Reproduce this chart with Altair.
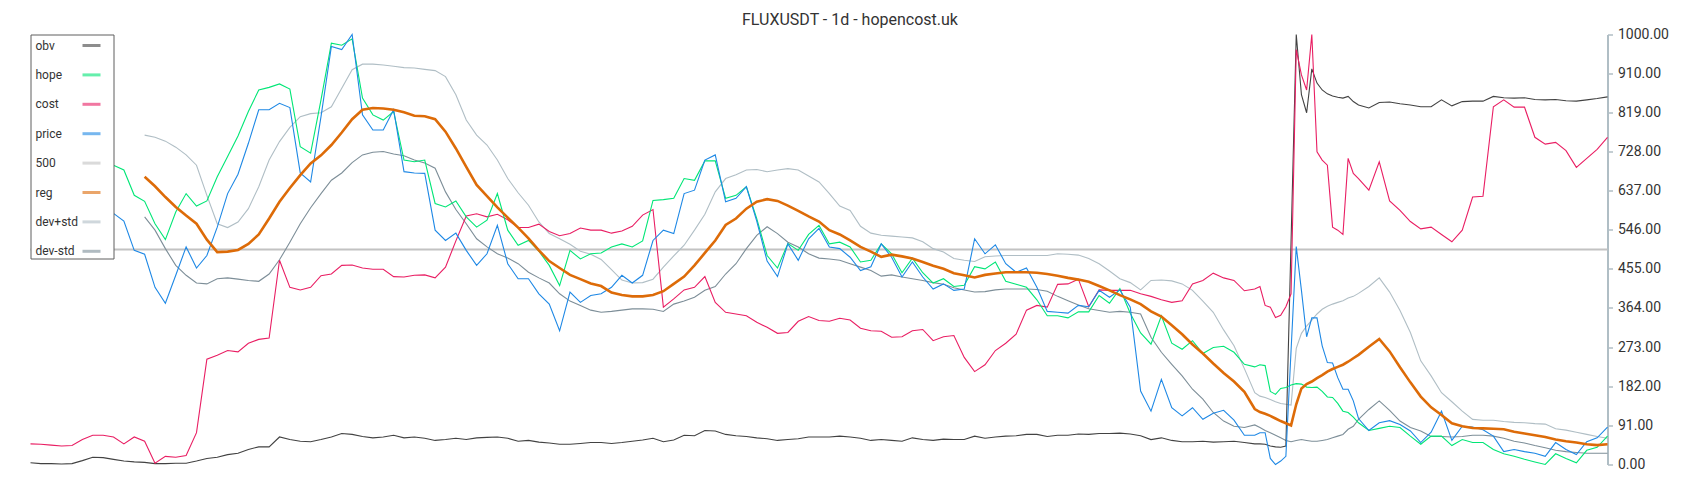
import altair as alt
import pandas as pd

title_text = "FLUXUSDT - 1d - hopencost.uk"
series_names = ["obv", "hope", "cost", "price", "500", "reg", "dev+std", "dev-std"]
series_colors = ["#424242", "#00e676", "#e91e63", "#1e88e5", "#c2c2c2", "#dd6b08", "#b0bec5", "#7d8e98"]
y_ticks = [0, 91, 182, 273, 364, 455, 546, 637, 728, 819, 910, 1000]

# day index of each sample (every 2 days, daily around the spike)
days = list(range(0, 236, 2)) + list(range(236, 257)) + list(range(258, 305, 2))

obv = [4, 2, 2, 1, 2, 9, 17, 16, 12, 8, 6, 5, 2, 2, 3, 3, 8, 14, 17, 23, 26, 35,
       41, 41, 64, 58, 54, 53, 58, 64, 72, 70, 65, 62, 64, 68, 62, 64, 61, 56, 58, 61, 58, 62,
       63, 64, 61, 54, 56, 52, 50, 47, 47, 49, 51, 51, 49, 51, 54, 57, 61, 53, 57, 68, 67, 79,
       78, 70, 67, 65, 62, 60, 56, 58, 60, 64, 64, 64, 66, 64, 61, 56, 58, 56, 54, 62, 58, 56,
       59, 58, 58, 66, 61, 64, 66, 67, 70, 70, 65, 68, 68, 71, 70, 72, 72, 73, 71, 67, 58, 62,
       56, 53, 53, 54, 52, 53, 54, 51,
       48, 48, 47, 43, 41, 40, 43, 520, 1000, 860, 818, 920, 887, 871, 862, 857, 854, 852, 856, 844, 836,
       829, 842, 843, 839, 836, 832, 832, 848, 834, 844, 845, 845, 856, 853, 852, 853, 849, 848, 849, 846, 845, 848, 851, 855]

cost = [48, 47, 45, 43, 44, 58, 68, 68, 64, 48, 64, 54, 3, 19, 17, 21, 74, 245, 254, 265, 262, 282,
        291, 294, 475, 412, 406, 412, 439, 443, 463, 464, 457, 454, 454, 437, 436, 440, 441, 434, 459, 520, 578, 583,
        576, 582, 569, 551, 551, 559, 542, 532, 537, 550, 545, 545, 538, 543, 554, 580, 593, 366, 385, 406, 412, 437,
        377, 354, 350, 346, 331, 319, 305, 307, 333, 344, 335, 333, 340, 336, 317, 311, 310, 296, 297, 311, 314, 288,
        297, 300, 249, 216, 232, 265, 282, 303, 359, 370, 366, 419, 420, 431, 367, 406, 405, 405, 405, 397, 391, 383,
        377, 381, 420, 428, 445, 434, 428, 404,
        408, 414, 370, 366, 342, 347, 367, 397, 965, 906, 871, 1000, 727, 708, 696, 552, 545, 535, 712, 677, 665,
        638, 704, 613, 591, 565, 548, 552, 535, 518, 545, 622, 624, 832, 848, 831, 831, 761, 745, 749, 730, 691, 712, 733, 761]

# hope and price start at day 16
hope = [696, 685, 626, 612, 560, 523, 587, 630, 601, 613, 669, 716, 764, 821,
        871, 877, 885, 873, 739, 724, 848, 980, 975, 990, 852, 813, 801, 821, 708, 704, 708, 607, 599, 613, 576, 552,
        568, 630, 545, 510, 521, 496, 463, 416, 498, 478, 490, 492, 506, 513, 506, 520, 614, 616, 619, 665, 661, 706,
        706, 619, 626, 646, 572, 486, 457, 514, 498, 535, 556, 513, 517, 506, 471, 475, 513, 490, 446, 480, 446, 422,
        432, 414, 417, 460, 455, 471, 426, 419, 412, 383, 346, 346, 341, 355, 355, 393, 375, 409, 352, 306, 280, 346,
        282, 268, 288, 258, 272, 275, 261, 233,
        227, 232, 230, 170, 163, 177, 179, 185, 188, 187, 180, 179, 180, 170, 157, 156, 142, 124, 121, 110, 97,
        79, 84, 89, 86, 66, 47, 66, 66, 44, 58, 51, 51, 35, 25, 19, 12, 6, 0, 25, 14, 4, 33, 40, 66]

price = [584, 566, 498, 489, 412, 375, 440, 506, 457, 486, 552, 630, 675, 747,
         825, 825, 840, 830, 678, 657, 809, 972, 965, 1000, 813, 778, 778, 825, 681, 678, 677, 545, 521, 538, 498, 463,
         490, 556, 467, 432, 432, 397, 373, 311, 401, 377, 393, 397, 412, 440, 422, 440, 521, 545, 537, 630, 638, 708,
         720, 611, 619, 646, 566, 473, 437, 513, 475, 525, 549, 506, 502, 482, 451, 460, 513, 482, 436, 471, 436, 408,
         420, 405, 408, 525, 490, 511, 467, 447, 457, 412, 356, 354, 352, 370, 367, 405, 389, 406, 366, 171, 124, 198,
         132, 113, 132, 105, 119, 126, 103, 68,
         68, 74, 74, 14, 0, 8, 19, 265, 507, 405, 297, 341, 341, 276, 237, 236, 202, 175, 175, 148, 107,
         79, 97, 102, 93, 78, 51, 75, 124, 56, 89, 87, 81, 66, 30, 35, 30, 26, 19, 51, 35, 23, 53, 62, 87]

# reg and the bands start at day 22
reg = [669, 647, 622, 599, 579, 560, 523, 494, 495, 499, 513,
       535, 572, 611, 643, 673, 700, 719, 743, 772, 803, 825, 829, 828, 825, 819, 811, 810, 803, 774, 735, 692, 650,
       624, 598, 574, 551, 526, 498, 473, 457, 441, 431, 421, 415, 400, 394, 391, 391, 394, 403, 420, 437, 463, 492,
       521, 557, 572, 595, 611, 617, 613, 602, 590, 577, 565, 545, 535, 521, 506, 495, 483, 488, 484, 479, 471, 462,
       455, 445, 440, 435, 441, 444, 447, 447, 447, 446, 443, 439, 434, 430, 425, 415, 405, 394, 384, 373, 356, 344,
       324, 303, 279, 258, 235, 213, 193, 169,
       129, 122, 118, 113, 107, 101, 96, 91, 140, 177, 187, 193, 201, 208, 216, 222, 227, 232, 239, 247, 255,
       274, 292, 263, 226, 191, 158, 133, 115, 96, 89, 85, 84, 83, 82, 76, 72, 68, 64, 58, 54, 51, 47, 45, 47]

dev_plus = [766, 761, 752, 738, 720, 696, 626, 560, 551, 564, 595,
            646, 708, 751, 784, 809, 816, 818, 832, 875, 918, 931, 931, 929, 926, 923, 922, 919, 916, 902, 860, 801, 766,
            743, 708, 665, 632, 603, 564, 537, 525, 512, 496, 489, 477, 453, 429, 422, 423, 431, 459, 485, 510, 545, 582,
            634, 665, 674, 685, 686, 681, 685, 688, 685, 671, 657, 630, 601, 591, 554, 538, 533, 531, 529, 527, 518, 502,
            494, 479, 475, 472, 483, 485, 486, 486, 486, 486, 486, 490, 489, 487, 479, 467, 450, 432, 423, 406, 428, 429,
            427, 420, 405, 380, 354, 313, 276, 223,
            167, 159, 156, 151, 146, 142, 140, 138, 270, 305, 322, 336, 350, 361, 368, 373, 377, 381, 387, 391, 398,
            414, 434, 401, 358, 307, 241, 206, 167, 146, 124, 105, 103, 103, 100, 98, 97, 95, 94, 83, 80, 75, 70, 65, 61]

dev_minus = [576, 545, 502, 463, 440, 422, 420, 432, 434, 431, 428,
             426, 443, 476, 517, 560, 597, 630, 661, 678, 702, 720, 726, 728, 722, 718, 708, 701, 689, 634, 593, 560, 525,
             506, 490, 480, 467, 447, 434, 422, 397, 380, 370, 359, 354, 356, 359, 362, 362, 361, 356, 373, 380, 389, 405,
             414, 443, 467, 502, 533, 553, 537, 517, 506, 490, 480, 478, 475, 467, 459, 451, 438, 441, 436, 432, 428, 423,
             419, 411, 406, 401, 402, 406, 408, 408, 408, 407, 403, 391, 381, 371, 362, 358, 354, 356, 354, 350, 296, 261,
             233, 206, 175, 152, 121, 101, 89, 86,
             92, 86, 79, 74, 68, 62, 56, 53, 56, 58, 56, 54, 54, 56, 58, 62, 66, 70, 82, 89, 105,
             128, 148, 126, 101, 86, 78, 65, 65, 64, 65, 68, 68, 66, 61, 54, 50, 44, 39, 33, 30, 28, 26, 26, 26]

level_days = [0, 304]
level = [500, 500]

rows = []


def add(name, xs, ys):
    assert len(xs) == len(ys), (name, len(xs), len(ys))
    for x, y in zip(xs, ys):
        rows.append({"day": x, "value": y, "series": name})


add("500", level_days, level)
add("dev+std", days[11:], dev_plus)
add("dev-std", days[11:], dev_minus)
add("obv", days, obv)
add("cost", days, cost)
add("hope", days[8:], hope)
add("price", days[8:], price)
add("reg", days[11:], reg)
df = pd.DataFrame(rows)

FONT = "Roboto"

x_enc = alt.X("day:Q", scale=alt.Scale(domain=[0, 304], nice=False, zero=False), axis=None)
y_enc = alt.Y(
    "value:Q",
    scale=alt.Scale(domain=[0, 1000], nice=False),
    axis=alt.Axis(
        orient="right", values=y_ticks, format=".2f", grid=False, title=None,
        domainColor="#b0bec5", domainWidth=2, tickColor="#b0bec5", tickWidth=1.5, tickSize=5,
        labelFont=FONT, labelFontSize=14, labelColor="#333333", labelPadding=5,
    ),
)
color_enc = alt.Color(
    "series:N",
    scale=alt.Scale(domain=series_names, range=series_colors),
    sort=series_names,
    legend=alt.Legend(
        title=".", titleOrient="right", titleOpacity=0, titleFontSize=6, titlePadding=4,
        orient="none", legendX=0, legendY=0, direction="vertical",
        symbolType="stroke", symbolSize=324, symbolStrokeWidth=3, symbolOpacity=0.6,
        symbolOffset=50, labelOffset={"expr": "-66.5"}, rowPadding=12.4, padding=0.5,
        labelFont=FONT, labelFontSize=12, labelColor="#333333",
        fillColor="#ffffff", strokeColor="#5f5f5f", zindex=1,
    ),
)

base = alt.Chart(df)


def layer(names, width):
    return base.transform_filter(
        alt.FieldOneOfPredicate(field="series", oneOf=names)
    ).mark_line(strokeWidth=width, interpolate="linear").encode(
        x=x_enc, y=y_enc, color=color_enc
    )


chart = alt.layer(
    layer(["500"], 2),
    layer(["dev+std", "dev-std", "obv", "cost", "hope", "price"], 1.1),
    layer(["reg"], 2.6),
).properties(
    width=1577,
    height=430,
    padding={"left": 18.5, "top": 3.5, "right": 10, "bottom": 5},
    title=alt.TitleParams(
        title_text, font=FONT, fontSize=16, fontWeight="normal", color="#333333",
        anchor="middle", frame="group", dx=31, offset=0,
    ),
).configure_view(strokeWidth=0)

chart.save("out.html", embed_options={"renderer": "svg", "actions": False})
